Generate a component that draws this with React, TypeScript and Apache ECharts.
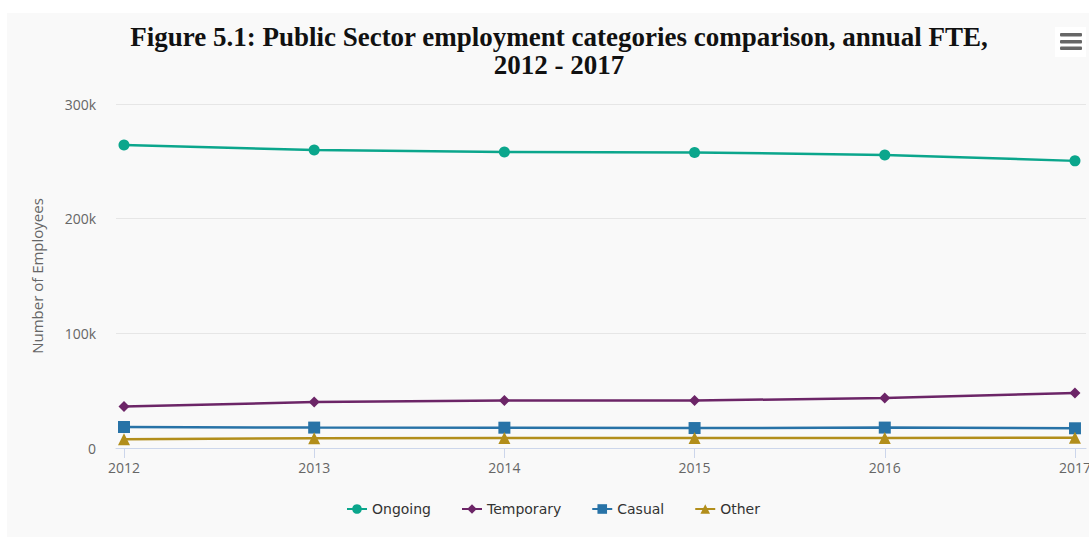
import React, { useEffect, useRef } from "react";
import * as echarts from "echarts";

const years = [2012, 2013, 2014, 2015, 2016, 2017];
const ongoing = [264200, 259900, 258200, 257800, 255600, 250400];
const temporary = [36200, 40100, 41400, 41400, 43600, 47900];
const casual = [18300, 17800, 17700, 17400, 17800, 17200];
const other = [7700, 8600, 8700, 8700, 8700, 8900];
const yTicks = [0, 100000, 200000, 300000];

const seriesDefs = [
  { name: "Ongoing", data: ongoing, color: "#0ba68c", symbol: "circle", size: 11 },
  { name: "Temporary", data: temporary, color: "#6c2567", symbol: "diamond", size: 11 },
  { name: "Casual", data: casual, color: "#2873a7", symbol: "rect", size: 12 },
  { name: "Other", data: other, color: "#b28e1b", symbol: "triangle", size: 12 },
];

export default function App() {
  const ref = useRef<HTMLDivElement>(null);
  useEffect(() => {
    if (!ref.current) return;
    const chart = echarts.init(ref.current, null, { renderer: "svg" });
    chart.setOption({
      animation: false,
      backgroundColor: "#ffffff",
      title: {
        text: "Figure 5.1: Public Sector employment categories comparison, annual FTE,\n2012 - 2017",
        left: 554,
        top: 18,
        textAlign: "center",
        textStyle: {
          fontFamily: "Liberation Serif",
          fontWeight: "bold",
          fontSize: 27,
          color: "#111",
          lineHeight: 28,
        },
      },
      graphic: [
        { type: "rect", z: -10, shape: { x: 7, y: 13, width: 1082, height: 524 }, style: { fill: "#f9f9f9" } },
        { type: "rect", shape: { x: 1055, y: 27, width: 31, height: 30 }, style: { fill: "#ffffff" } },
        { type: "rect", shape: { x: 1060, y: 33, width: 22, height: 3.5, r: 1 }, style: { fill: "#666666" } },
        { type: "rect", shape: { x: 1060, y: 40, width: 22, height: 3.5, r: 1 }, style: { fill: "#666666" } },
        { type: "rect", shape: { x: 1060, y: 46.5, width: 22, height: 3.5, r: 1 }, style: { fill: "#666666" } },
      ],
      legend: {
        bottom: 17,
        left: 341,
        itemGap: 30,
        itemWidth: 20,
        itemHeight: 12,
        textStyle: { fontFamily: "DejaVu Sans", fontSize: 14, color: "#333" },
        data: seriesDefs.map((s) => s.name),
      },
      grid: { left: 116, right: 3, top: 104, bottom: 90, outerBoundsMode: "none", containLabel: false },
      xAxis: {
        type: "value",
        min: 2011.958,
        max: 2017.058,
        splitLine: { show: false },
        axisLine: { show: true, lineStyle: { color: "#ccd6eb", width: 1 } },
        axisTick: { show: true, length: 10, lineStyle: { color: "#ccd6eb" }, customValues: years },
        axisLabel: {
          customValues: years,
          color: "#666",
          fontFamily: "Open Sans",
          fontSize: 14,
          margin: 12,
          formatter: (v: number) => String(Math.round(v)),
        },
      },
      yAxis: {
        type: "value",
        min: 0,
        max: 300000,
        interval: 100000,
        name: "Number of Employees",
        nameLocation: "middle",
        nameGap: 72,
        nameTextStyle: { color: "#666", fontFamily: "Open Sans", fontSize: 15 },
        axisLine: { show: false },
        axisTick: { show: false },
        splitLine: { lineStyle: { color: "#e6e6e6", width: 1 } },
        axisLabel: {
          color: "#666",
          fontFamily: "Open Sans",
          fontSize: 14,
          margin: 20,
          formatter: (v: number) => (v === 0 ? "0" : v / 1000 + "k"),
          customValues: yTicks,
        },
      },
      series: seriesDefs.map((s) => ({
        name: s.name,
        type: "line",
        data: s.data.map((v, i) => [years[i], v]),
        symbol: s.symbol,
        symbolSize: s.size,
        showSymbol: true,
        itemStyle: { color: s.color },
        lineStyle: { color: s.color, width: 2.5 },
        clip: false,
      })),
    });
    return () => chart.dispose();
  }, []);
  return (
    <div
      ref={ref}
      style={{ position: "fixed", left: 0, top: 0, width: 1089, height: 538 }}
    />
  );
}
